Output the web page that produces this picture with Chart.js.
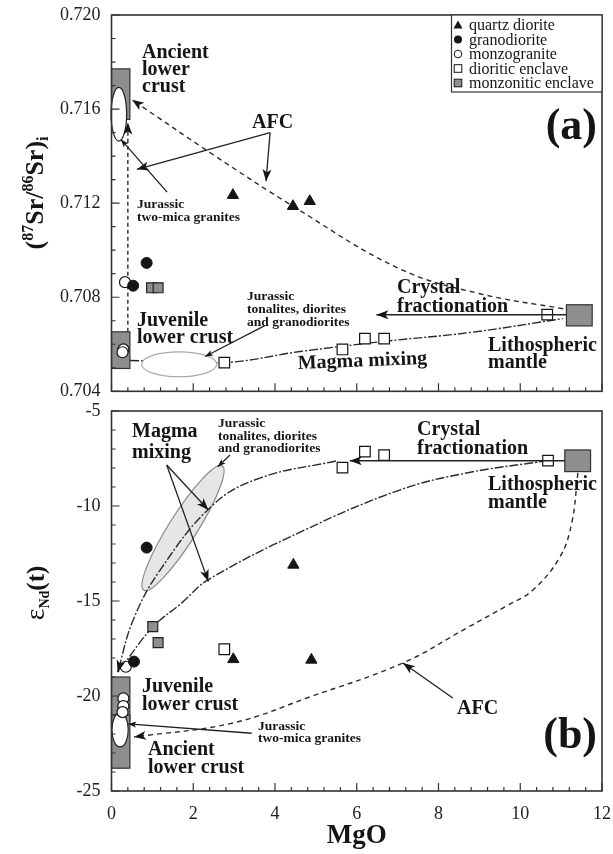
<!DOCTYPE html>
<html>
<head>
<meta charset="utf-8">
<title>MgO vs Sr-Nd isotopes</title>
<script src="https://cdn.jsdelivr.net/npm/chart.js@4.4.0/dist/chart.umd.min.js"></script>
<style>
  body { margin: 0; background: #fff; }
  #wrap { position: relative; width: 613px; height: 854px; }
  .panel { position: absolute; left: 0; }
</style>
</head>
<body>
<div id="wrap">
  <div class="panel" style="top:0"><canvas id="chartA" width="613" height="400"></canvas></div>
  <div class="panel" style="top:400px"><canvas id="chartB" width="613" height="454"></canvas></div>
</div>
<script>
// ---- data ----
// x axis (MgO) shared by both panels
const xTicks = [0, 2, 4, 6, 8, 10, 12];

// panel (a): (87Sr/86Sr)i
const srTicks = [0.704, 0.708, 0.712, 0.716, 0.720];
const srQuartzDiorite = [[2.97, 0.71234], [4.44, 0.71187], [4.85, 0.71208]];
const srGranodiorite = [[0.86, 0.70946], [0.53, 0.70849]];
const srMonzogranite = [[0.33, 0.70864], [0.29, 0.70578], [0.27, 0.70566]];
const srDioriticEnclave = [[2.76, 0.70522], [5.65, 0.70578], [6.20, 0.70624], [6.67, 0.70624], [10.66, 0.70726]];
const srMonzoniticEnclave = [[0.98, 0.70840], [1.14, 0.70840]];
const srAfcCurve = [[11.05, 0.70751], [9.01, 0.70815], [7.05, 0.70921], [4.44, 0.71187], [2.48, 0.71407], [0.50, 0.71640]];
const srMixingCurve = [[0.45, 0.70531], [2.76, 0.70522], [4.61, 0.70569], [6.66, 0.70612], [8.77, 0.70650], [11.04, 0.70709]];
const srAfcVertical = [[0.40, 0.70653], [0.40, 0.71543]];
// end-member boxes [x0, x1, y0, y1] and fields [centre, axis end, other axis end]
const srAncientCrustBox = [0, 0.45, 0.71556, 0.71771];
const srJuvenileCrustBox = [0, 0.45, 0.70497, 0.70653];
const srMantleBox = [11.13, 11.76, 0.70678, 0.70768];
const srTwoMicaField = [[0.18, 0.71578], [0.18, 0.71692], [0.37, 0.71578]];
const srTonaliteField = [[1.655, 0.70515], [2.572, 0.70515], [1.655, 0.70568]];

// panel (b): eNd(t)
const ndTicks = [-25, -20, -15, -10, -5];
const ndQuartzDiorite = [[4.45, -13.1], [2.98, -18.07], [4.89, -18.1]];
const ndGranodiorite = [[0.86, -12.19], [0.55, -18.19]];
const ndMonzogranite = [[0.35, -18.46], [0.29, -20.12], [0.29, -20.53], [0.27, -20.85]];
const ndDioriticEnclave = [[2.76, -17.54], [5.65, -7.98], [6.20, -7.14], [6.67, -7.32], [10.68, -7.61]];
const ndMonzoniticEnclave = [[1.01, -16.35], [1.14, -17.19]];
const ndAfcCurve = [[11.41, -8.26], [11.26, -10.89], [10.97, -12.68], [10.31, -14.42], [9.67, -15.25], [8.69, -16.42], [7.13, -18.26], [4.85, -20.05], [2.97, -21.42], [0.55, -22.16]];
const ndMixingUpper = [[5.49, -7.63], [3.63, -8.53], [2.48, -9.95], [1.19, -13.37], [0.53, -16.0], [0.15, -18.75]];
const ndMixingLower = [[10.68, -7.61], [8.69, -8.26], [7.05, -9.16], [4.73, -11.26], [2.36, -13.89], [1.72, -15.1], [1.01, -16.37], [0.31, -18.3], [0.15, -18.75]];
const ndJuvenileCrustBox = [0, 0.45, -21.3, -19.0];
const ndAncientCrustBox = [0, 0.45, -23.8, -21.0];
const ndMantleBox = [11.09, 11.72, -8.19, -7.05];
const ndTwoMicaField = [[0.21, -21.78], [0.21, -20.88], [0.41, -21.78]];
const ndTonaliteField = [[1.75, -11.16], [2.71, -7.89], [2.04, -11.56]];

// ---- helpers ----
const serif = '"Liberation Serif", "DejaVu Serif", serif';
const GRAY = '#8e8e8e';
const INK = '#151515';

function isMultiple(v, m) {
    const r = v / m;
    return Math.abs(r - Math.round(r)) < 1e-6;
}

function pts(arr) {
    return arr.map(p => ({ x: p[0], y: p[1] }));
}

function px(chart, p) {
    return [chart.scales.x.getPixelForValue(p[0]), chart.scales.y.getPixelForValue(p[1])];
}

const markerStyles = {
    quartz: { pointStyle: 'triangle', pointRadius: 6.5, backgroundColor: INK, borderColor: INK, borderWidth: 1 },
    grano: { pointStyle: 'circle', pointRadius: 5.5, backgroundColor: INK, borderColor: INK, borderWidth: 1 },
    monzo: { pointStyle: 'circle', pointRadius: 5.5, backgroundColor: '#fff', borderColor: INK, borderWidth: 1.2 },
    dioritic: { pointStyle: 'rect', pointRadius: 7.5, backgroundColor: '#fff', borderColor: INK, borderWidth: 1.2 },
    monzonitic: { pointStyle: 'rect', pointRadius: 7, backgroundColor: GRAY, borderColor: '#222', borderWidth: 1.2 }
};

function scatterSet(label, data, style) {
    return Object.assign({ label: label, data: pts(data), showLine: false }, markerStyles[style]);
}

function curveSet(label, data, dash) {
    return {
        label: label, data: pts(data), showLine: true, pointRadius: 0,
        borderColor: '#2a2a2a', borderWidth: 1.4, borderDash: dash, tension: 0.4, fill: false
    };
}

function xScale(showLabels, height) {
    return {
        type: 'linear', min: xTicks[0], max: xTicks[xTicks.length - 1],
        grid: { display: false, drawTicks: false },
        border: { display: false },
        ticks: {
            stepSize: 0.4, autoSkip: false, maxRotation: 0, padding: 12, color: '#222',
            font: { family: serif, size: 18 },
            callback: v => (showLabels && xTicks.some(t => Math.abs(t - v) < 1e-6)) ? String(Math.round(v)) : ''
        },
        afterFit: s => { s.height = height; s.paddingLeft = 0; s.paddingRight = 0; }
    };
}

function yScale(ticks, step, fmt) {
    return {
        type: 'linear', min: ticks[0], max: ticks[ticks.length - 1],
        grid: { display: false, drawTicks: false },
        border: { display: false },
        ticks: {
            stepSize: step, autoSkip: false, padding: 11, color: '#222',
            font: { family: serif, size: 18 },
            callback: v => ticks.some(t => Math.abs(t - v) < step / 100) ? fmt(v) : ''
        },
        afterFit: s => { s.width = 111.5; s.paddingTop = 0; s.paddingBottom = 0; }
    };
}

function fillBox(chart, box, color) {
    const ctx = chart.ctx;
    const [x0, y0] = px(chart, [box[0], box[3]]);
    const [x1, y1] = px(chart, [box[1], box[2]]);
    ctx.save();
    ctx.fillStyle = color;
    ctx.strokeStyle = '#333';
    ctx.lineWidth = 1.2;
    ctx.fillRect(x0, y0, x1 - x0, y1 - y0);
    ctx.strokeRect(x0, y0, x1 - x0, y1 - y0);
    ctx.restore();
}

function drawField(chart, field, fill, stroke) {
    const ctx = chart.ctx;
    const c = px(chart, field[0]), a = px(chart, field[1]), b = px(chart, field[2]);
    const rx = Math.hypot(a[0] - c[0], a[1] - c[1]);
    const ry = Math.hypot(b[0] - c[0], b[1] - c[1]);
    const rot = Math.atan2(a[1] - c[1], a[0] - c[0]);
    ctx.save();
    ctx.beginPath();
    ctx.ellipse(c[0], c[1], rx, ry, rot, 0, Math.PI * 2);
    ctx.fillStyle = fill;
    ctx.fill();
    ctx.strokeStyle = stroke;
    ctx.lineWidth = 1.2;
    ctx.stroke();
    ctx.restore();
}

function arrowHead(ctx, x1, y1, x2, y2, len, half) {
    const ang = Math.atan2(y2 - y1, x2 - x1);
    ctx.save();
    ctx.translate(x2, y2);
    ctx.rotate(ang);
    ctx.beginPath();
    ctx.moveTo(0, 0);
    ctx.lineTo(-len, -half);
    ctx.lineTo(-len * 0.75, 0);
    ctx.lineTo(-len, half);
    ctx.closePath();
    ctx.fillStyle = INK;
    ctx.fill();
    ctx.restore();
}

function arrow(chart, from, to, opts) {
    opts = opts || {};
    const ctx = chart.ctx;
    const a = px(chart, from), b = px(chart, to);
    ctx.save();
    ctx.strokeStyle = '#222';
    ctx.lineWidth = opts.width || 1.3;
    ctx.setLineDash(opts.dash || []);
    ctx.beginPath();
    ctx.moveTo(a[0], a[1]);
    ctx.lineTo(b[0], b[1]);
    ctx.stroke();
    ctx.restore();
    if (opts.head !== false) arrowHead(ctx, a[0], a[1], b[0], b[1], opts.len || 12, opts.half || 4.5);
}

function curveHead(chart, curve) {
    const n = curve.length;
    const a = px(chart, curve[n - 2]), b = px(chart, curve[n - 1]);
    arrowHead(chart.ctx, a[0], a[1], b[0], b[1], 12, 4.5);
}

function label(ctx, lines, x, y0, size, lead, opts) {
    opts = opts || {};
    ctx.save();
    ctx.fillStyle = INK;
    ctx.font = (opts.normal ? '' : 'bold ') + size + 'px ' + serif;
    ctx.textAlign = opts.align || 'left';
    ctx.textBaseline = 'alphabetic';
    if (opts.rotate) {
        ctx.translate(x, y0);
        ctx.rotate(opts.rotate);
        x = 0; y0 = 0;
    }
    lines.forEach((t, i) => ctx.fillText(t, x, y0 + i * lead));
    ctx.restore();
}

// rotated axis title made of pieces (superscripts / subscripts)
function richTitle(ctx, parts, baseX, centerY) {
    ctx.save();
    ctx.translate(baseX, centerY);
    ctx.rotate(-Math.PI / 2);
    ctx.fillStyle = INK;
    ctx.textBaseline = 'alphabetic';
    let total = 0;
    parts.forEach(p => { ctx.font = p.font; p.w = ctx.measureText(p.t).width; total += p.w; });
    let x = -total / 2;
    parts.forEach(p => { ctx.font = p.font; ctx.fillText(p.t, x, p.dy || 0); x += p.w; });
    ctx.restore();
}

function frameAndTicks(chart, xMajor, yTicks) {
    const { ctx, chartArea: a, scales: { x, y } } = chart;
    ctx.save();
    ctx.strokeStyle = '#333';
    ctx.lineWidth = 1.2;
    ctx.beginPath();
    x.ticks.forEach(t => {
        const p = x.getPixelForValue(t.value);
        const len = isMultiple(t.value, xMajor) ? 8 : 4;
        ctx.moveTo(p, a.bottom);
        ctx.lineTo(p, a.bottom - len);
    });
    y.ticks.forEach(t => {
        const p = y.getPixelForValue(t.value);
        const major = yTicks.some(v => Math.abs(v - t.value) < 1e-7);
        ctx.moveTo(a.left, p);
        ctx.lineTo(a.left + (major ? 8 : 4), p);
    });
    ctx.stroke();
    ctx.lineWidth = 1.6;
    ctx.strokeRect(a.left, a.top, a.right - a.left, a.bottom - a.top);
    ctx.restore();
}

function legend(ctx) {
    const left = 451.5, top = 15, right = 602, bottom = 92;
    ctx.save();
    ctx.fillStyle = '#fff';
    ctx.fillRect(left, top, right - left, bottom - top);
    ctx.strokeStyle = '#333';
    ctx.lineWidth = 1.2;
    ctx.strokeRect(left, top, right - left, bottom - top);
    const rows = [
        ['quartz diorite', 'tri'], ['granodiorite', 'dot'], ['monzogranite', 'ring'],
        ['dioritic enclave', 'box'], ['monzonitic enclave', 'gbox']
    ];
    const mx = 458;
    rows.forEach((r, i) => {
        const cy = 25 + i * 14.5;
        ctx.fillStyle = INK;
        ctx.strokeStyle = INK;
        ctx.lineWidth = 1;
        ctx.beginPath();
        if (r[1] === 'tri') {
            ctx.moveTo(mx, cy - 4.5); ctx.lineTo(mx + 4.5, cy + 3.5); ctx.lineTo(mx - 4.5, cy + 3.5); ctx.closePath(); ctx.fill();
        } else if (r[1] === 'dot') {
            ctx.arc(mx, cy, 4, 0, Math.PI * 2); ctx.fill();
        } else if (r[1] === 'ring') {
            ctx.arc(mx, cy, 3.8, 0, Math.PI * 2); ctx.stroke();
        } else if (r[1] === 'box') {
            ctx.strokeRect(mx - 3.8, cy - 3.8, 7.6, 7.6);
        } else {
            ctx.fillStyle = GRAY; ctx.fillRect(mx - 3.8, cy - 3.8, 7.6, 7.6); ctx.strokeRect(mx - 3.8, cy - 3.8, 7.6, 7.6);
        }
        ctx.fillStyle = INK;
        ctx.font = '16px ' + serif;
        ctx.textBaseline = 'middle';
        ctx.fillText(r[0], 469, cy + 1);
    });
    ctx.restore();
}

// ---- panel (a) ----
const srPlugin = {
    id: 'srAnnotations',
    beforeDatasetsDraw(chart) {
        fillBox(chart, srAncientCrustBox, GRAY);
        fillBox(chart, srJuvenileCrustBox, GRAY);
        fillBox(chart, srMantleBox, GRAY);
        drawField(chart, srTwoMicaField, '#fff', '#222');
    },
    afterDatasetsDraw(chart) {
        const ctx = chart.ctx;
        drawField(chart, srTonaliteField, '#fff', '#aaa');
        curveHead(chart, srAfcCurve);
        curveHead(chart, srAfcVertical);
        arrow(chart, [3.88, 0.71500], [0.62, 0.71344]);
        arrow(chart, [3.88, 0.71500], [3.78, 0.71293]);
        arrow(chart, [1.36, 0.71247], [0.23, 0.71471], { len: 8, half: 3 });
        arrow(chart, [3.75, 0.70679], [2.29, 0.70548], { len: 8, half: 3 });
        arrow(chart, [11.13, 0.70726], [6.48, 0.70726], { width: 1.5 });
        frameAndTicks(chart, 2, srTicks);
        legend(ctx);

        label(ctx, ['Ancient', 'lower', 'crust'], 142, 57.5, 20, 17);
        label(ctx, ['AFC'], 252, 128, 20, 0);
        label(ctx, ['Jurassic', 'two-mica granites'], 137, 208, 13.5, 13);
        label(ctx, ['Juvenile', 'lower crust'], 137, 326, 20, 17);
        label(ctx, ['Jurassic', 'tonalites, diorites', 'and granodiorites'], 247, 300, 13.5, 13);
        label(ctx, ['Crystal', 'fractionation'], 397, 293, 20, 18.5);
        label(ctx, ['Magma mixing'], 298, 369, 20, 0, { rotate: -0.04 });
        label(ctx, ['Lithospheric', 'mantle'], 488, 351, 20, 17);
        label(ctx, ['(a)'], 597, 139, 44, 0, { align: 'right' });

        richTitle(ctx, [
            { t: '(', font: 'bold 26px ' + serif },
            { t: '87', font: 'bold 16px ' + serif, dy: -10 },
            { t: 'Sr/', font: 'bold 26px ' + serif },
            { t: '86', font: 'bold 16px ' + serif, dy: -10 },
            { t: 'Sr)', font: 'bold 26px ' + serif },
            { t: 'i', font: 'bold 16px ' + serif, dy: 5 }
        ], 43, 193);
    }
};

new Chart(document.getElementById('chartA'), {
    type: 'scatter',
    data: {
        datasets: [
            scatterSet('quartz diorite', srQuartzDiorite, 'quartz'),
            scatterSet('granodiorite', srGranodiorite, 'grano'),
            scatterSet('monzogranite', srMonzogranite, 'monzo'),
            scatterSet('dioritic enclave', srDioriticEnclave, 'dioritic'),
            scatterSet('monzonitic enclave', srMonzoniticEnclave, 'monzonitic'),
            curveSet('AFC', srAfcCurve, [5, 4]),
            curveSet('AFC vertical', srAfcVertical, [4, 3]),
            curveSet('Magma mixing', srMixingCurve, [9, 2, 2, 2])
        ]
    },
    options: {
        responsive: false, animation: false, events: [],
        layout: { padding: { top: 15, right: 11, left: 0, bottom: 0 } },
        plugins: { legend: { display: false }, tooltip: { enabled: false } },
        scales: {
            x: xScale(false, 7),
            y: yScale(srTicks, 0.001, v => v.toFixed(3))
        }
    },
    plugins: [srPlugin]
});

// ---- panel (b) ----
const ndPlugin = {
    id: 'ndAnnotations',
    beforeDatasetsDraw(chart) {
        fillBox(chart, ndJuvenileCrustBox, GRAY);
        fillBox(chart, ndAncientCrustBox, GRAY);
        fillBox(chart, ndMantleBox, GRAY);
        drawField(chart, ndTwoMicaField, '#fff', '#222');
        drawField(chart, ndTonaliteField, '#e6e6e6', '#888');
    },
    afterDatasetsDraw(chart) {
        const ctx = chart.ctx;
        curveHead(chart, ndAfcCurve);
        curveHead(chart, ndMixingUpper);
        arrow(chart, [1.35, -7.84], [2.37, -10.21]);
        arrow(chart, [1.35, -7.84], [2.37, -13.98]);
        arrow(chart, [2.90, -7.32], [2.60, -7.93], { len: 8, half: 3 });
        arrow(chart, [11.09, -7.62], [5.83, -7.62], { width: 1.5 });
        arrow(chart, [8.35, -20.11], [7.13, -18.26]);
        arrow(chart, [3.43, -21.96], [0.41, -21.47], { len: 8, half: 3 });
        frameAndTicks(chart, 2, ndTicks);

        label(ctx, ['Magma', 'mixing'], 132, 37, 20, 21);
        label(ctx, ['Jurassic', 'tonalites, diorites', 'and granodiorites'], 218, 27, 13.5, 12.5);
        label(ctx, ['Crystal', 'fractionation'], 417, 35, 20, 18.5);
        label(ctx, ['Lithospheric', 'mantle'], 488, 90, 20, 18);
        label(ctx, ['Juvenile', 'lower crust'], 142, 292, 20, 18);
        label(ctx, ['Ancient', 'lower crust'], 148, 355, 20, 18);
        label(ctx, ['Jurassic', 'two-mica granites'], 258, 330, 13.5, 12);
        label(ctx, ['AFC'], 457, 314, 20, 0);
        label(ctx, ['(b)'], 597, 348, 44, 0, { align: 'right' });
        label(ctx, ['MgO'], (chart.chartArea.left + chart.chartArea.right) / 2, 443, 27, 0, { align: 'center' });

        richTitle(ctx, [
            { t: '\u03B5', font: '28px ' + serif },
            { t: 'Nd', font: 'bold 14px ' + serif, dy: 5 },
            { t: '(t)', font: 'bold 25px ' + serif }
        ], 44, 193);
    }
};

new Chart(document.getElementById('chartB'), {
    type: 'scatter',
    data: {
        datasets: [
            scatterSet('quartz diorite', ndQuartzDiorite, 'quartz'),
            scatterSet('granodiorite', ndGranodiorite, 'grano'),
            scatterSet('monzogranite', ndMonzogranite, 'monzo'),
            scatterSet('dioritic enclave', ndDioriticEnclave, 'dioritic'),
            scatterSet('monzonitic enclave', ndMonzoniticEnclave, 'monzonitic'),
            curveSet('AFC', ndAfcCurve, [5, 4]),
            curveSet('Magma mixing upper', ndMixingUpper, [9, 2, 2, 2]),
            curveSet('Magma mixing lower', ndMixingLower, [9, 2, 2, 2])
        ]
    },
    options: {
        responsive: false, animation: false, events: [],
        layout: { padding: { top: 11, right: 11, left: 0, bottom: 0 } },
        plugins: { legend: { display: false }, tooltip: { enabled: false } },
        scales: {
            x: xScale(true, 63),
            y: yScale(ndTicks, 1, v => String(Math.round(v)))
        }
    },
    plugins: [ndPlugin]
});
</script>
</body>
</html>
